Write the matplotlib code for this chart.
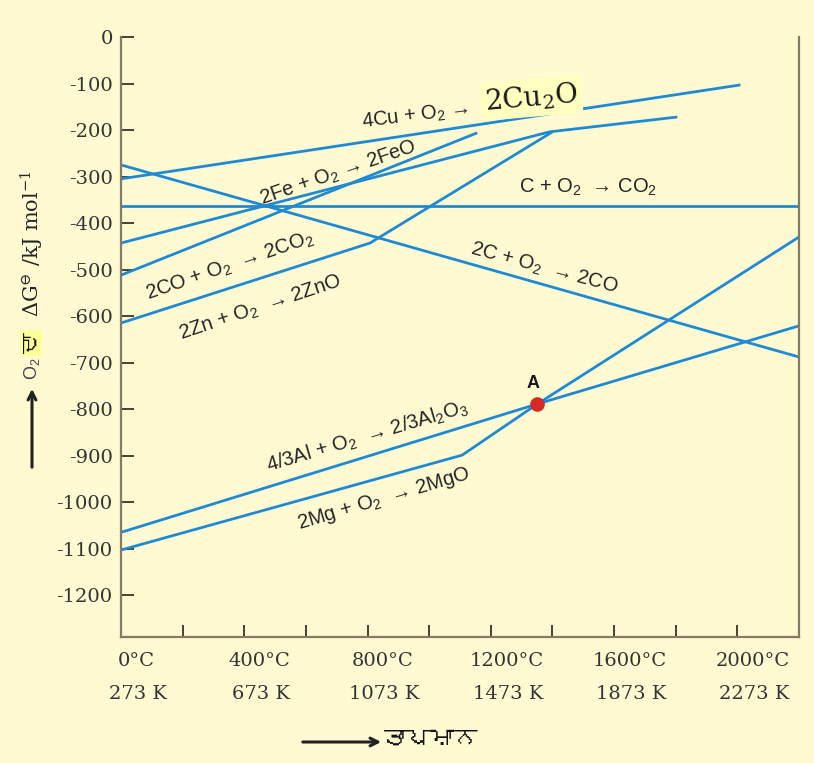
import matplotlib
matplotlib.use("Agg")
import matplotlib.pyplot as plt
from matplotlib import font_manager
from matplotlib.ft2font import FT2Font

# Ellingham-type diagram: temperature (deg C) vs Gibbs energy (kJ/mol)
cu_t = [0, 2010]
cu_g = [-305, -103]
fe_t = [0, 1390, 1805]
fe_g = [-443, -204, -172]
co_t = [0, 1156]
co_g = [-512, -206]
cco2_t = [0, 2200]
cco2_g = [-363, -363]
cco_t = [0, 2200]
cco_g = [-275, -688]
zn_t = [0, 808, 1400]
zn_g = [-615, -443, -204]
al_t = [0, 1351, 2200]
al_g = [-1065, -789, -621]
mg_t = [0, 1107, 1351, 2200]
mg_g = [-1103, -899, -789, -430]
point_a = (1351, -789)

y_ticks = [0, -100, -200, -300, -400, -500, -600, -700, -800, -900, -1000, -1100, -1200]
y_labels = ["0", "-100", "-200", "-300", "-400", "-500", "-600", "-700", "-800",
            "-900", "-1000", "-1100", "-1200"]
x_ticks = list(range(0, 2201, 200))
c_labels = ["0°C", "400°C", "800°C", "1200°C", "1600°C", "2000°C"]
k_labels = ["273 K", "673 K", "1073 K", "1473 K", "1873 K", "2273 K"]
label_t = [0, 400, 800, 1200, 1600, 2000]


def find_font(ch):
    for f in font_manager.fontManager.ttflist:
        try:
            if ord(ch) in FT2Font(f.fname).get_charmap():
                return f.name
        except Exception:
            pass
    return None


gur = find_font("ਤ")
gur_family = [gur, "DejaVu Sans"] if gur else ["DejaVu Sans"]

plt.rcParams["mathtext.default"] = "regular"

bg = "#fffad2"
line_col = "#1f8ad4"
spine_col = "#857a64"
text_col = "#242424"
sans = ["Liberation Sans", "DejaVu Sans"]
serif = ["DejaVu Serif"]

fig = plt.figure(figsize=(8.14, 7.63), dpi=100, facecolor=bg)
ax = fig.add_axes([121 / 814, 126 / 763, 678 / 814, 600 / 763], facecolor=bg)

for t, g in [(cu_t, cu_g), (fe_t, fe_g), (co_t, co_g), (cco2_t, cco2_g), (cco_t, cco_g),
             (zn_t, zn_g), (al_t, al_g), (mg_t, mg_g)]:
    ax.plot(t, g, color=line_col, lw=2.0, solid_capstyle="butt", zorder=2)

ax.plot([point_a[0]], [point_a[1]], "o", color="#d62a26", ms=9.5, zorder=4)
ax.text(1338, -744, "A", family=sans, fontsize=13, fontweight="bold",
        color="#1a1a1a", ha="center", va="center")

ax.set_xlim(0, 2200)
ax.set_ylim(-1290, 0)

ax.spines["top"].set_visible(False)
for s in ["left", "right", "bottom"]:
    ax.spines[s].set_color(spine_col)
    ax.spines[s].set_linewidth(1.6)

ax.set_yticks(y_ticks)
ax.set_yticklabels(y_labels, family=serif, fontsize=14, color="#333333")
ax.set_xticks(x_ticks)
ax.set_xticklabels([])
ax.tick_params(axis="both", direction="in", length=9, width=1.4, color="#4a4030")
ax.tick_params(axis="y", pad=6)

# two rows of temperature labels
for t, c, k in zip(label_t, c_labels, k_labels):
    ax.text(t + 50, -0.04, c, transform=ax.get_xaxis_transform(), family=serif,
            fontsize=14, color="#333333", ha="center", va="center")
    ax.text(t + 55, -0.095, k, transform=ax.get_xaxis_transform(), family=serif,
            fontsize=14, color="#333333", ha="center", va="center")

# reaction labels
kw = dict(family=sans, fontsize=14.5, color=text_col, ha="center", va="center",
          rotation_mode="anchor")
ax.text(955, -170, "4Cu + O$_2$ →", rotation=7, **kw)
ax.text(1331, -131, "2Cu$_2$O", rotation=5, family=serif, fontsize=20, color="#1a1a1a",
        ha="center", va="center", rotation_mode="anchor",
        bbox=dict(boxstyle="square,pad=0.15", fc="#ffffc0", ec="none"))
ax.text(705, -292, "2Fe + O$_2$ → 2FeO", rotation=19, **kw)
ax.text(1516, -323, "C + O$_2$  → CO$_2$", rotation=0, **kw)
ax.text(1373, -497, "2C + O$_2$  → 2CO", rotation=-15, **kw)
ax.text(354, -492, "2CO + O$_2$  → 2CO$_2$", rotation=19, **kw)
ax.text(451, -583, "2Zn + O$_2$  → 2ZnO", rotation=18.5, **kw)
ax.text(799, -860, "4/3Al + O$_2$  → 2/3Al$_2$O$_3$", rotation=16.5, **kw)
ax.text(851, -994, "2Mg + O$_2$  → 2MgO", rotation=16.5, **kw)

# y axis label with arrow
fig.text(32 / 814, 1 - 244 / 763, r"ΔG$^{\ominus}$ /kJ mol$^{-1}$", rotation=90,
         family=serif, fontsize=15, color=text_col, ha="center", va="center")
fig.text(32 / 814, 1 - 369 / 763, "O$_2$", rotation=90, family=sans, fontsize=13,
         color="#444444", ha="center", va="center")
fig.text(31 / 814, 1 - 343 / 763, "ਦਾ", rotation=90, family=gur_family, fontsize=15,
         color="#111111", ha="center", va="center",
         bbox=dict(boxstyle="square,pad=0.1", fc="#ffff99", ec="none"))
fig.add_artist(matplotlib.patches.FancyArrowPatch(
    (32 / 814, 1 - 470 / 763), (32 / 814, 1 - 386 / 763), transform=fig.transFigure,
    arrowstyle="->", mutation_scale=14, lw=2.2, color="#222222"))

# x axis label with arrow
fig.add_artist(matplotlib.patches.FancyArrowPatch(
    (300 / 814, 1 - 742 / 763), (384 / 814, 1 - 742 / 763), transform=fig.transFigure,
    arrowstyle="->", mutation_scale=14, lw=2.2, color="#222222"))
fig.text(384 / 814, 1 - 738 / 763, "ਤਾਪਮਾਨ", family=gur_family, fontsize=17,
         color="#111111", ha="left", va="center")

fig.savefig("out.png", dpi=100, facecolor=bg)
